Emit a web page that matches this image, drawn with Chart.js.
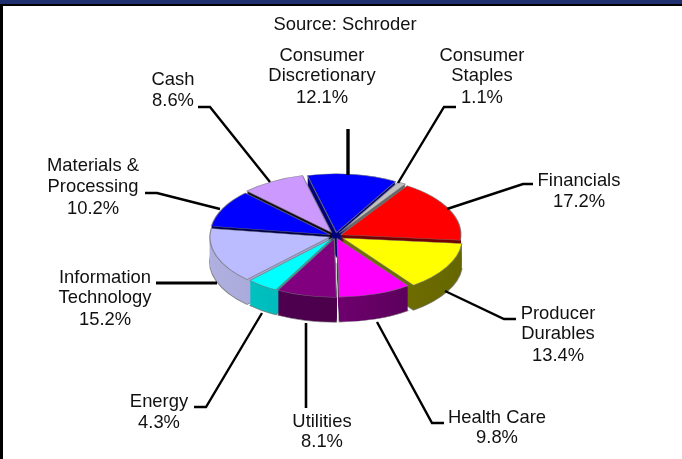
<!DOCTYPE html>
<html>
<head>
<meta charset="utf-8">
<style>
html,body{margin:0;padding:0;background:#fff;}
#wrap{position:relative;width:682px;height:459px;overflow:hidden;}
canvas{display:block;}
</style>
<script src="https://cdn.jsdelivr.net/npm/chart.js@4"></script>
</head>
<body>
<div id="wrap"><canvas id="c" width="682" height="459"></canvas></div>
<script>
const categories = ['Consumer Discretionary','Consumer Staples','Financials','Producer Durables','Health Care','Utilities','Energy','Information Technology','Materials & Processing','Cash'];
const shares = [12.1,1.1,17.2,13.4,9.8,8.1,4.3,15.2,10.2,8.6];
const labelLines = [['Consumer','Discretionary'],['Consumer','Staples'],['Financials'],['Producer','Durables'],['Health Care'],['Utilities'],['Energy'],['Information','Technology'],['Materials &','Processing'],['Cash']];
const topColors = ['#0000FF','#C0C0C0','#FF0000','#FFFF00','#FF00FF','#800080','#00FFFF','#BBBBFF','#0000FF','#CC99FF'];
const wallColors = [['#000080','#000070'],['#707070','#606060'],['#800000','#700000'],['#808000','#666600'],['#8C008C','#500050'],['#500050','#480048'],['#00C8C8','#009A9A'],['#B0B0E0','#9090C4'],['#000050','#000040'],['#100818','#100818']];
const explode = [7,7,6,8,5,5,5,6,6,8];

// layout of the drawing
const PIE = {x:335.5, y:236, radius:120, squash:0.49, depth:25};
const FONT = '18.4px "Liberation Sans", Arial, sans-serif';
const LINE_Y = [
  [56,76,98],[56,76,98],[181,202],[314,334,356],[418,438],[422,442],[402,423],[278,298,320],[166,187,209],[80,101]
];
const LABEL_X = [322,482,579,558,497,322,159,105,93,173];
const LEADERS = [
  {w:3.4,p:[[348,129],[348,175]]},
  {w:2.4,p:[[456,107],[444,107],[398,183]]},
  {w:2.4,p:[[533,184],[523,184],[447,209]]},
  {w:2.4,p:[[516,319],[504,319],[445,291]]},
  {w:2.4,p:[[444,423],[432,423],[377,322]]},
  {w:2.6,p:[[306,323],[306,408]]},
  {w:2.4,p:[[194,407],[206,407],[262,313]]},
  {w:2.8,p:[[156,283],[217,283]]},
  {w:2.4,p:[[145,193],[157,193],[220,209]]},
  {w:2.4,p:[[198,107],[210,107],[270,182]]}
];

const pie3d = {
  id:'pie3d',
  beforeDraw(chart){
    const {ctx,width} = chart;
    ctx.save();
    ctx.fillStyle='#000000';
    ctx.fillRect(0,0,3,chart.height);
    ctx.fillRect(0,0,width,6);
    ctx.fillStyle='#1F2F70';
    ctx.fillRect(0,0,width,4);
    ctx.restore();
  },
  beforeDatasetDraw(chart,args){
    const {ctx} = chart;
    const meta = args.meta;
    const cx = meta.data[0].x, cy = meta.data[0].y;
    const order = meta.data.map((el,i)=>i).sort((a,b)=>{
      const mid = i => (meta.data[i].startAngle+meta.data[i].endAngle)/2;
      return Math.sin(mid(a))-Math.sin(mid(b));
    });
    const place = (dy,i)=>{
      const el = meta.data[i], mid=(el.startAngle+el.endAngle)/2;
      ctx.translate(PIE.x, PIE.y+dy);
      ctx.scale(1,PIE.squash);
      ctx.translate(-cx,-cy);
      ctx.translate(Math.cos(mid)*explode[i],Math.sin(mid)*explode[i]);
    };
    order.forEach(i=>{
      const el = meta.data[i], base = el.options;
      const g = ctx.createLinearGradient(cx-PIE.radius,0,cx+PIE.radius,0);
      g.addColorStop(0,wallColors[i][0]);
      g.addColorStop(1,wallColors[i][1]);
      // bottom rim
      ctx.save(); place(PIE.depth,i);
      el.options = Object.assign(Object.create(base),{backgroundColor:g,borderColor:'rgba(110,110,110,0.75)',borderWidth:1.5});
      el.draw(ctx); ctx.restore();
      // wall
      el.options = Object.assign(Object.create(base),{backgroundColor:g,borderColor:g,borderWidth:0});
      for(let d=PIE.depth-1;d>=1;d--){
        ctx.save(); place(d,i); el.draw(ctx); ctx.restore();
      }
      // top
      el.options = base;
      ctx.save(); place(0,i); el.draw(ctx); ctx.restore();
    });
    return false;
  },
  afterDraw(chart){
    const {ctx} = chart;
    ctx.save();
    ctx.strokeStyle='#000000';
    ctx.lineJoin='miter';
    LEADERS.forEach(l=>{
      ctx.lineWidth=l.w;
      ctx.beginPath();
      l.p.forEach((q,k)=>k?ctx.lineTo(q[0],q[1]):ctx.moveTo(q[0],q[1]));
      ctx.stroke();
    });
    ctx.fillStyle='#111111';
    ctx.font=FONT;
    ctx.textAlign='center';
    ctx.textBaseline='middle';
    categories.forEach((c,i)=>{
      const lines = labelLines[i].concat(shares[i].toFixed(1)+'%');
      lines.forEach((t,k)=>ctx.fillText(t,LABEL_X[i],LINE_Y[i][k]));
    });
    ctx.restore();
  }
};

new Chart(document.getElementById('c'),{
  type:'pie',
  data:{labels:categories,datasets:[{data:shares,backgroundColor:topColors,borderColor:'rgba(120,120,120,0.8)',borderWidth:1.2}]},
  options:{
    responsive:false,
    animation:false,
    rotation:-14,
    radius:PIE.radius,
    layout:{padding:{left:8}},
    events:[],
    plugins:{
      legend:{display:false},
      tooltip:{enabled:false},
      title:{display:true,text:'Source: Schroder',color:'#111111',font:{family:'"Liberation Sans", Arial, sans-serif',size:18.4,weight:'normal',lineHeight:1.2},padding:{top:14,bottom:0}}
    }
  },
  plugins:[pie3d]
});
</script>
</body>
</html>
